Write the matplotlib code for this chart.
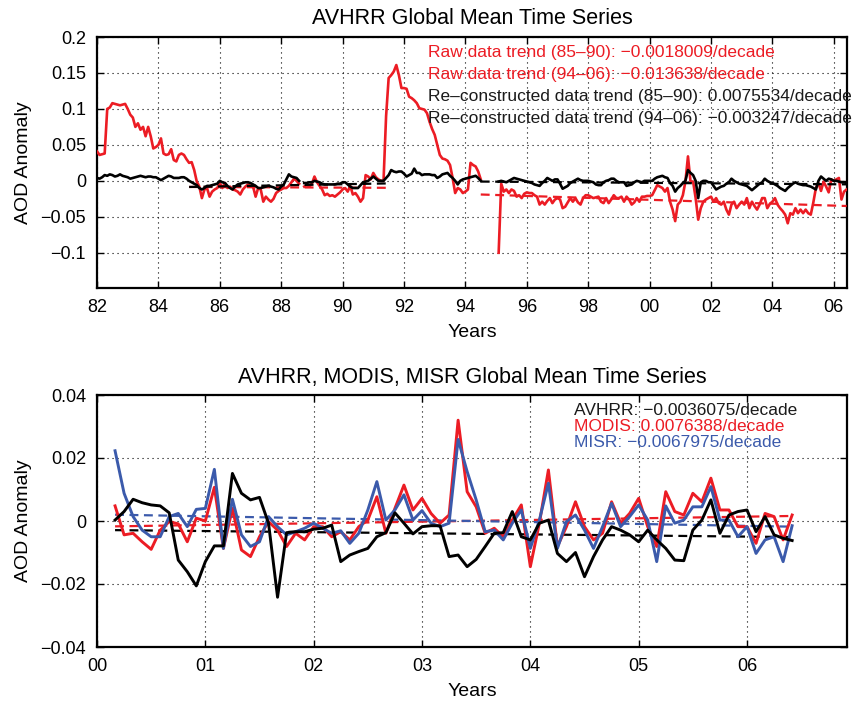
import numpy as np
import matplotlib
matplotlib.use("Agg")
import matplotlib.pyplot as plt

plt.rcParams['font.family'] = ['Liberation Sans', 'DejaVu Sans']

RED = '#ec1c24'
BLUE = '#3b5aab'
nan = None

# ---------------- top panel data (monthly, Jan 1982 .. Jun 2006) ----------------
top_start_year = 1982
raw_aod = [
    .041, .036, .037, .038, .100, .102, .108, .107, .106, .105, .106, .107,
    .100, .092, .088, .075, .080, .071, .075, .062, .075, .062, .045, .047,
    .050, .059, .038, .036, .037, .044, .029, .027, .036, .038, .036, .030,
    .025, .026, .015, -.001, -.008, -.024, -.012, -.010, -.022, -.015, -.012, -.010,
    -.003, -.010, -.003, -.010, -.008, -.012, -.013, -.015, -.019, -.012, -.008, -.005,
    -.007, -.008, -.022, -.010, -.012, -.029, -.022, -.026, -.029, -.025, -.017, -.014,
    -.012, -.010, -.010, -.007, -.002, .003, .000, -.004, nan, -.008, -.006, -.008,
    -.004, .006, -.002, -.007, -.012, -.020, -.018, -.021, -.020, -.022, -.019, -.016,
    -.012, -.010, -.015, -.007, -.019, -.017, -.022, -.029, -.024, .008, .006, .002,
    .011, .005, .002, .000, .000, .090, .143, .147, .152, .161, .147, .129,
    .129, .128, .117, .115, .112, .108, .101, .100, .099, .094, .082, .072,
    .064, .050, .036, .031, .030, .028, .022, .004, -.017, -.010, -.012, -.017,
    -.015, -.012, .025, .022, .020, .013, .002, nan, nan, nan, nan, nan,
    nan, -.100, -.004, -.015, -.012, -.017, -.012, -.014, -.022, -.020, -.024, -.018,
    -.016, -.017, -.017, -.020, -.022, -.033, -.029, -.033, -.028, -.024, -.031, -.026,
    -.024, -.026, -.038, -.036, -.030, -.024, -.029, -.024, -.030, -.033, -.024, -.020,
    -.020, -.022, -.024, -.023, -.022, -.029, -.031, -.024, -.031, -.026, -.020, -.024,
    -.024, -.022, -.029, -.022, -.026, -.033, -.030, -.024, -.029, -.022, -.022, -.021,
    -.021, -.020, -.013, -.006, -.008, -.010, -.015, -.010, -.029, -.040, -.056, -.033,
    -.029, -.020, -.001, .034, -.001, -.001, -.024, -.054, -.038, -.029, -.026, -.024,
    -.022, -.029, -.024, -.031, -.033, -.029, -.040, -.047, -.033, -.029, -.038, -.033,
    -.029, -.033, -.024, -.038, -.029, -.035, -.040, -.033, -.024, -.024, -.038, -.032,
    -.029, -.024, -.033, -.038, -.042, -.047, -.059, -.045, -.047, -.038, -.045, -.040,
    -.045, -.040, -.045, -.047, -.030, -.010, -.003, -.014, -.001, -.008, -.016, .002,
    .000, .002, .004, -.026, -.015, -.012,
]
recon_aod = [
    .004, .003, .005, .008, .007, .009, .008, .006, .007, .009, .007, .006,
    .005, .003, .004, .005, .006, .007, .006, .005, .006, .006, .005, .005,
    .003, .001, .003, .005, .007, .006, .004, .004, .004, .005, .005, .003,
    .000, -.002, -.004, -.006, -.010, -.012, -.010, -.007, -.007, -.006, -.005, -.004,
    .000, -.002, -.003, -.007, -.010, -.012, -.008, -.005, -.004, -.003, -.002, -.002,
    -.003, -.005, -.007, -.010, -.010, -.009, -.008, -.007, -.008, -.009, -.011, -.012,
    -.008, -.005, .002, .009, .006, .005, .004, .000, nan, -.003, -.003, -.002,
    -.002, .000, -.001, -.002, -.004, -.005, -.005, -.005, -.005, -.005, -.004, -.004,
    -.002, -.002, -.005, -.008, -.010, -.010, -.010, -.006, -.002, -.001, .000, .003,
    .006, .003, .000, .000, .000, .004, .008, .015, .013, .012, .013, .013,
    .010, .006, .008, .010, .017, .011, .011, .008, .009, .009, .009, .008,
    .008, .004, .006, .009, .010, .011, .007, .004, .000, -.005, .000, .002,
    .003, .004, .005, .006, .007, .004, .000, nan, nan, nan, nan, nan,
    nan, -.001, .000, -.001, -.002, .000, .002, .004, .003, .002, .001, .000,
    -.001, -.002, -.003, -.005, -.006, -.007, -.003, .000, .004, .002, .000, .002,
    .002, -.004, -.011, -.009, -.007, -.003, -.001, .001, .003, .001, .000, .000,
    .000, -.001, -.002, -.005, -.006, -.006, -.002, .000, .001, .003, .003, .000,
    -.002, -.002, -.002, -.007, -.006, -.005, -.002, .000, -.001, -.002, .000, .000,
    .000, .000, .003, .005, .006, .007, .005, .004, -.003, -.007, -.015, -.010,
    -.007, -.003, .000, .015, .011, .008, .000, -.024, -.002, .000, .000, -.002,
    -.002, -.007, -.012, -.010, -.008, -.007, -.004, -.002, .003, .000, -.002, -.004,
    -.005, -.006, -.007, -.010, -.013, -.010, -.007, -.004, -.002, .003, .000, -.002,
    -.003, -.005, -.007, -.010, -.012, -.014, -.010, -.007, -.004, -.002, -.004, -.005,
    -.006, -.006, -.007, -.008, -.010, -.012, .000, .006, .003, .000, .003, .002,
    .000, .000, -.001, -.002, -.002, -.003,
]
# trend lines: (start year, end year, start value, end value)
raw_trend_8590 = (1985.0, 1991.45, -0.0085, -0.0097)
raw_trend_9406 = (1994.5, 2006.42, -0.019, -0.035)
rec_trend_8590 = (1985.0, 1991.45, -0.0085, -0.0036)
rec_trend_9406 = (1994.5, 2006.42, -0.001, -0.0049)

top_labels = [
    ("Raw data trend (85\u201390): \u22120.0018009/decade", RED),
    ("Raw data trend (94\u201306): \u22120.013638/decade", RED),
    ("Re\u2013constructed data trend (85\u201390): 0.0075534/decade", '#1a1a1a'),
    ("Re\u2013constructed data trend (94\u201306): \u22120.003247/decade", '#1a1a1a'),
]

# ---------------- bottom panel data (monthly, Mar 2000 .. Jun 2006) ----------------
bot_start = 2000 + 2 / 12
avhrr = [
    .0003, .0030, .0069, .0058, .0051, .0048, .0026, -.0124, -.0161, -.0206,
    -.0129, -.0079, -.0079, .0151, .0088, .0067, .0075, -.0007, -.0242, -.0037, -.0034, -.0034,
    -.0026, -.0023, -.0013, -.0129, -.0108, -.0097, -.0087, -.0050, -.0037, .0026, -.0007, -.0041,
    -.0018, -.0015, -.0015, -.0113, -.0108, -.0145, -.0122, -.0081, -.0039, -.0037, .0030, -.0050,
    -.0060, -.0007, .0003, -.0103, -.0129, -.0100, -.0177, -.0113, -.0060, -.0018, -.0029, -.0044,
    -.0066, -.0029, -.0060, -.0087, -.0124, -.0126, -.0029, .0003, .0067, -.0039, .0019, .0030,
    .0035, -.0034, .0014, -.0044, -.0055, -.0062,
]
modis = [
    .0048, -.0044, -.0039, -.0066, -.0090, -.0029, -.0002, -.0009, -.0066, .0009,
    .0000, .0107, -.0087, .0040, -.0092, -.0113, -.0050, -.0002, -.0029, -.0081, -.0039, -.0060,
    -.0018, -.0018, -.0050, -.0034, -.0060, -.0018, .0003, .0077, -.0039, .0040, .0114, .0035,
    .0072, .0024, -.0007, .0019, .0320, .0093, .0045, -.0039, -.0023, -.0050, .0003, .0051,
    -.0145, -.0007, .0162, -.0081, -.0018, .0061, -.0018, -.0060, -.0039, .0061, -.0007, .0024,
    .0072, -.0018, -.0081, .0093, .0030, .0019, .0088, .0061, .0136, .0035, .0035, -.0018,
    -.0018, -.0071, .0024, .0014, -.0060, .0019,
]
misr = [
    .0223, .0088, .0014, -.0029, -.0050, -.0050, .0014, .0024, -.0018, .0037,
    .0040, .0164, -.0087, .0069, -.0044, -.0081, -.0066, .0014, -.0018, -.0044, -.0034, -.0023,
    -.0007, -.0023, -.0039, -.0031, -.0071, -.0039, .0035, .0125, .0003, .0035, .0083, .0003,
    .0033, -.0007, -.0018, -.0007, .0259, .0157, .0067, -.0034, -.0029, -.0060, -.0007, .0035,
    -.0087, .0003, .0120, -.0087, -.0002, .0019, -.0029, -.0087, -.0018, .0056, -.0018, .0014,
    .0051, .0003, -.0129, .0048, -.0007, .0003, .0045, .0045, .0109, .0003, .0003, -.0050,
    -.0018, -.0103, -.0060, -.0050, -.0129, -.0015,
]
avhrr_trend = (2000 + 2 / 12, 2006.42, -0.0029, -0.0051)
modis_trend = (2000 + 2 / 12, 2006.42, -0.0017, 0.0016)
misr_trend = (2000 + 2 / 12, 2006.42, 0.0020, -0.0018)
bot_labels = [
    ("AVHRR: \u22120.0036075/decade", '#1a1a1a'),
    ("MODIS: 0.0076388/decade", RED),
    ("MISR: \u22120.0067975/decade", BLUE),
]

top_xticks = list(range(1982, 2007, 2))
top_xticklabels = ['82', '84', '86', '88', '90', '92', '94', '96', '98', '00', '02', '04', '06']
top_yticks = [-0.1, -0.05, 0, 0.05, 0.1, 0.15, 0.2]
top_yticklabels = ['\u22120.1', '\u22120.05', '0', '0.05', '0.1', '0.15', '0.2']
bot_xticks = list(range(2000, 2007))
bot_xticklabels = ['00', '01', '02', '03', '04', '05', '06']
bot_yticks = [-0.04, -0.02, 0, 0.02, 0.04]
bot_yticklabels = ['\u22120.04', '\u22120.02', '0', '0.02', '0.04']

# ---------------- drawing ----------------
W, H = 852, 702
fig = plt.figure(figsize=(W / 100, H / 100), dpi=100)
ax1 = fig.add_axes([97 / W, 1 - 288 / H, 750 / W, 251 / H])
ax2 = fig.add_axes([97 / W, 1 - 647 / H, 750 / W, 252 / H])

DASH = (0, (4, 2.5))
TFS = 15.5
LFS = 14
TKFS = 13
AFS = 12.5


def style(ax):
    ax.grid(True, color='black', linestyle=(0, (1, 3.5)), linewidth=0.8)
    ax.set_axisbelow(False)
    ax.tick_params(direction='in', top=True, right=True, length=5, width=1,
                   labelsize=TKFS, pad=8)
    for s in ax.spines.values():
        s.set_linewidth(1.6)


raw = np.array(raw_aod, dtype=float)
rec = np.array(recon_aod, dtype=float)
t1 = top_start_year + np.arange(len(raw)) / 12.0
ax1.plot(t1, raw, color=RED, lw=1.9, zorder=3)
for tr in (raw_trend_8590, raw_trend_9406):
    ax1.plot([tr[0], tr[1]], [tr[2], tr[3]], color=RED, lw=1.6, linestyle=DASH, zorder=3)
ax1.plot(t1, rec, color='black', lw=1.9, zorder=4)
for tr in (rec_trend_8590, rec_trend_9406):
    ax1.plot([tr[0], tr[1]], [tr[2], tr[3]], color='black', lw=1.6, linestyle=DASH, zorder=4)

ax1.set_xlim(1982, 2006.43)
ax1.set_ylim(-0.149, 0.2)
ax1.set_xticks(top_xticks)
ax1.set_xticklabels(top_xticklabels)
ax1.set_yticks(top_yticks)
ax1.set_yticklabels(top_yticklabels)
style(ax1)
ax1.set_title('AVHRR Global Mean Time Series', fontsize=TFS, pad=9)
ax1.set_xlabel('Years', fontsize=LFS, labelpad=6)
ax1.set_ylabel('AOD Anomaly', fontsize=LFS, labelpad=6)
for i, (txt, c) in enumerate(top_labels):
    ax1.text(0.4413, 0.940 - i * 0.0877, txt, transform=ax1.transAxes, color=c,
             fontsize=AFS, va='center', ha='left', clip_on=False, zorder=5)

t2 = bot_start + np.arange(len(modis)) / 12.0
for tr, c in ((avhrr_trend, 'black'), (modis_trend, RED), (misr_trend, BLUE)):
    ax2.plot([tr[0], tr[1]], [tr[2], tr[3]], color=c, lw=1.6, linestyle=DASH, zorder=3)
ax2.plot(t2, np.array(modis), color=RED, lw=2.1, zorder=4)
ax2.plot(t2, np.array(misr), color=BLUE, lw=2.1, zorder=5)
ax2.plot(t2, np.array(avhrr), color='black', lw=2.1, zorder=6)
ax2.set_xlim(2000, 2006.923)
ax2.set_ylim(-0.04, 0.04)
ax2.set_xticks(bot_xticks)
ax2.set_xticklabels(bot_xticklabels)
ax2.set_yticks(bot_yticks)
ax2.set_yticklabels(bot_yticklabels)
style(ax2)
ax2.set_title('AVHRR, MODIS, MISR Global Mean Time Series', fontsize=TFS, pad=9)
ax2.set_xlabel('Years', fontsize=LFS, labelpad=6)
ax2.set_ylabel('AOD Anomaly', fontsize=LFS, labelpad=6)
for i, (txt, c) in enumerate(bot_labels):
    ax2.text(0.636, 0.940 - i * 0.065, txt, transform=ax2.transAxes, color=c,
             fontsize=AFS, va='center', ha='left', zorder=7)

fig.savefig('out.png', dpi=100)
